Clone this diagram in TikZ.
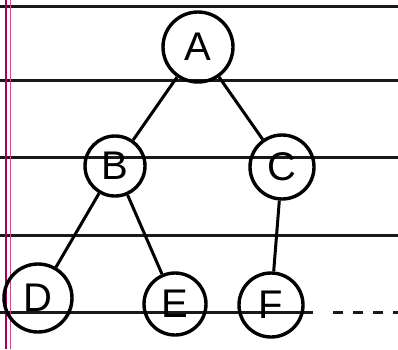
\documentclass[tikz,border=0pt]{standalone}
\usepackage{fontspec}
\setmainfont{Liberation Sans}
\begin{document}
\begin{tikzpicture}[x=1pt,y=-1pt,
  treenode/.style={circle,draw=black,line width=3.4pt,inner sep=0pt,font=\fontsize{40}{40}\selectfont},
  edge/.style={line width=3pt,black},
  rule/.style={line width=3pt,black!90}]
\useasboundingbox (0,0) rectangle (398,349);
% ruled paper
\draw[rule] (0,6) -- (398,6);
\draw[rule] (0,80) -- (398,80);
\draw[rule] (0,157) -- (398,157);
\draw[rule] (0,235) -- (398,235);
\draw[rule] (0,312) -- (313,312);
\draw[rule,dash pattern=on 10pt off 10pt] (333,312) -- (398,312);
\draw[line width=2.5pt,violet!70!red] (6,0) -- (6,349);
\draw[line width=1pt,violet!60!red!70] (10,0) -- (10,349);
% nodes
\node[treenode,minimum size=70pt] (A) at (198,47) {A};
\node[treenode,minimum size=60pt] (B) at (115,166) {B};
\node[treenode,minimum size=64pt] (C) at (282,167) {C};
\node[treenode,minimum size=68pt] (D) at (38,298) {D};
\node[treenode,minimum size=62pt] (E) at (175,304) {E};
\node[treenode,minimum size=64pt] (F) at (271,305) {F};
% edges
\draw[edge] (A) -- (B);
\draw[edge] (A) -- (C);
\draw[edge] (B) -- (D);
\draw[edge] (B) -- (E);
\draw[edge] (C) -- (F);
\end{tikzpicture}
\end{document}
